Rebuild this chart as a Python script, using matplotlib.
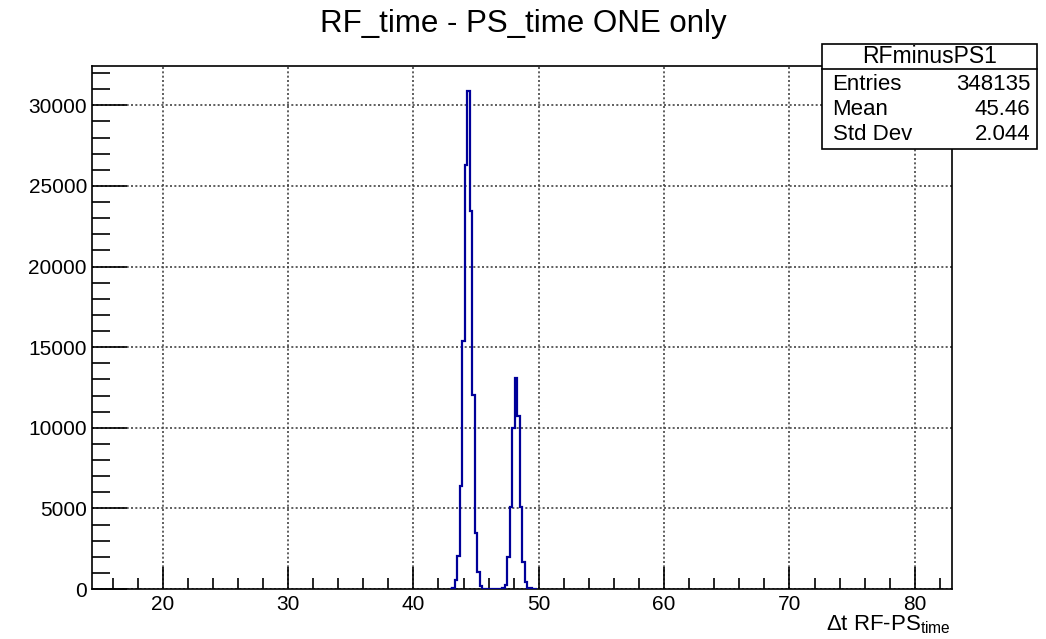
import matplotlib
matplotlib.use("Agg")
import matplotlib.pyplot as plt
import numpy as np
from matplotlib.ticker import MultipleLocator

plt.rcParams['font.family'] = ['Liberation Sans', 'DejaVu Sans']
plt.rcParams['mathtext.fontset'] = 'custom'
plt.rcParams['mathtext.rm'] = 'Liberation Sans'
plt.rcParams['mathtext.it'] = 'Liberation Sans'

# histogram binning (RFminusPS1)
x_lo, x_hi = 14.4, 82.93
bin_width = 0.2
first_filled = 42.9  # left edge of first non-empty bin

# counts of the non-empty bins, starting at first_filled
counts = [30, 60, 560, 2050, 6400, 15360, 26270, 30890, 23440, 12050,
          3480, 1080, 190, 30, 10, 5, 5, 5, 5, 10,
          20, 40, 250, 1970, 5070, 9980, 13090, 10700, 5110, 1700,
          450, 60, 40, 30, 20]

title = "RF_time - PS_time ONE only"
stats_name = "RFminusPS1"
stats_rows = [("Entries", "348135"), ("Mean", "45.46"), ("Std Dev", "2.044")]

edges = np.arange(len(counts) + 1) * bin_width + first_filled

fig = plt.figure(figsize=(10.46, 6.39), dpi=100)
ax = fig.add_axes([0.0884, 0.0782, 0.8213, 0.8185])

ax.stairs(counts, edges, color='#000099', linewidth=1.6, zorder=3)

ax.set_xlim(x_lo, x_hi)
ax.set_ylim(0, max(counts) * 1.05)

ax.xaxis.set_major_locator(MultipleLocator(10))
ax.xaxis.set_minor_locator(MultipleLocator(2))
ax.yaxis.set_major_locator(MultipleLocator(5000))
ax.yaxis.set_minor_locator(MultipleLocator(1000))
ax.tick_params(which='both', direction='in', top=False, right=False,
               labelsize=15, color='black', width=1.2)
ax.tick_params(which='major', axis='x', length=16, pad=4)
ax.tick_params(which='minor', axis='x', length=8)
ax.tick_params(which='major', axis='y', length=25, pad=4)
ax.tick_params(which='minor', axis='y', length=13)
ax.grid(True, which='major', linestyle=(0, (1.2, 1.4)), color='#444444', linewidth=1.2)
for s in ax.spines.values():
    s.set_linewidth(1.2)

fig.text(0.5, 0.962, title, ha='center', va='center', fontsize=22.5)
fig.text(0.909, 0.022, r"$\Delta$t RF-PS$_{\mathrm{time}}$", ha='right',
         va='center', fontsize=16)

# stats box
bx0, bx1 = 0.786, 0.9915
by0, by1 = 0.767, 0.931
ydiv = 0.8915
box = plt.Rectangle((bx0, by0), bx1 - bx0, by1 - by0, transform=fig.transFigure,
                    facecolor='white', edgecolor='black', linewidth=1.2, zorder=5)
fig.add_artist(box)
fig.add_artist(plt.Line2D([bx0, bx1], [ydiv, ydiv], transform=fig.transFigure,
                          color='black', linewidth=1.2, zorder=6))
fig.text((bx0 + bx1) / 2, (ydiv + by1) / 2, stats_name, ha='center', va='center',
         fontsize=16.5, zorder=7)
row_y = [0.868, 0.829, 0.789]
for (name, val), ry in zip(stats_rows, row_y):
    fig.text(0.796, ry, name, ha='left', va='center', fontsize=16, zorder=7)
    fig.text(0.985, ry, val, ha='right', va='center', fontsize=16, zorder=7)

fig.savefig("out.png", dpi=100)
